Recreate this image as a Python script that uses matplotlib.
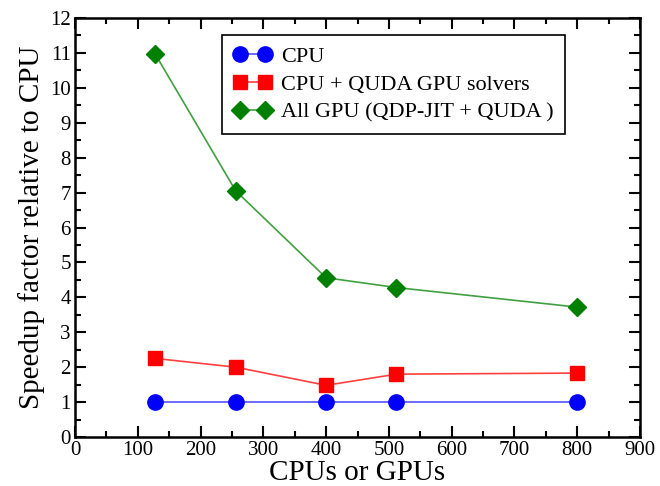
import numpy as np
import matplotlib.pyplot as plt
from matplotlib.ticker import MultipleLocator

plt.rcParams['font.family'] = ['Liberation Serif', 'DejaVu Serif']

nodes = [128, 256, 400, 512, 800]
cpu = [1.0, 1.0, 1.0, 1.0, 1.0]
cpu_quda = [2.25, 2.0, 1.48, 1.8, 1.83]
all_gpu = [10.96, 7.05, 4.56, 4.28, 3.72]

fig = plt.figure(figsize=(6.6, 4.86), dpi=100)
ax = fig.add_axes([75/660, 1-437/486, 565/660, 419/486])

ax.plot(nodes, cpu, color='#5050ff', lw=1.2, marker='o', ms=11,
        mfc='blue', mec='blue', label='CPU')
ax.plot(nodes, cpu_quda, color='#ff4040', lw=1.2, marker='s', ms=10,
        mfc='red', mec='red', label='CPU + QUDA GPU solvers')
ax.plot(nodes, all_gpu, color='#40a040', lw=1.2, marker='D', ms=9,
        mfc='green', mec='green', label='All GPU (QDP-JIT + QUDA )')

ax.set_xlim(0, 900)
ax.set_ylim(0, 12)
ax.xaxis.set_major_locator(MultipleLocator(100))
ax.xaxis.set_minor_locator(MultipleLocator(50))
ax.yaxis.set_major_locator(MultipleLocator(1))
ax.yaxis.set_minor_locator(MultipleLocator(0.5))
ax.tick_params(which='both', direction='in', top=True, right=True, width=1.5)
ax.tick_params(which='major', length=8, labelsize=15, pad=3)
ax.tick_params(which='minor', length=4)
for s in ax.spines.values():
    s.set_linewidth(1.8)

ax.set_xlabel('CPUs or GPUs', fontsize=21, labelpad=0)
ax.set_ylabel('Speedup factor relative to CPU', fontsize=21, labelpad=4)

leg = ax.legend(loc='upper left', bbox_to_anchor=(0.26, 0.959), borderaxespad=0,
                numpoints=2, fontsize=16, fancybox=False, framealpha=1,
                edgecolor='black', handlelength=1.75, handletextpad=0.42,
                borderpad=0.5, labelspacing=0.33)
leg.get_frame().set_linewidth(1.2)

plt.savefig('out.png', dpi=100)
